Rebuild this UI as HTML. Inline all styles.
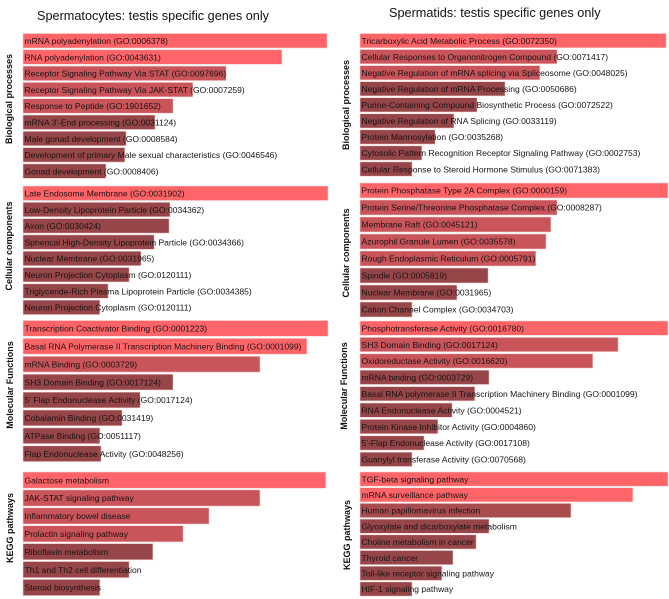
<!DOCTYPE html>
<html lang="en">
<head>
<meta charset="utf-8">
<title>Testis specific genes enrichment</title>
<style>
html,body{margin:0;padding:0;background:#fff;width:669px;height:599px;overflow:hidden}
svg{display:block;font-family:"Liberation Sans",Arial,sans-serif;filter:blur(0.3px)}
</style>
</head>
<body>
<svg id="chart" width="669" height="599" viewBox="0 0 669 599" xmlns="http://www.w3.org/2000/svg">
  <text x="37" y="20" font-size="12.7" fill="#111">Spermatocytes: testis specific genes only</text>
  <text x="389" y="17" font-size="12.7" fill="#111">Spermatids: testis specific genes only</text>
</svg>
<script>
// Spermatocytes
const cyteBioLabels = ["mRNA polyadenylation (GO:0006378)","RNA polyadenylation (GO:0043631)","Receptor Signaling Pathway Via STAT (GO:0097696)","Receptor Signaling Pathway Via JAK-STAT (GO:0007259)","Response to Peptide (GO:1901652)","mRNA 3'-End processing (GO:0031124)","Male gonad development (GO:0008584)","Development of primary Male sexual characteristics (GO:0046546)","Gonad development (GO:0008406)"];
const cyteBioValues = [99.7,84.9,66.6,55.7,49.2,43.3,33.8,33.4,27.2];
const cyteBioTiers = [0,0,1,1,1,2,2,2,2];
const cyteCompLabels = ["Late Endosome Membrane (GO:0031902)","Low-Density Lipoprotein Particle (GO:0034362)","Axon (GO:0030424)","Spherical High-Density Lipoprotein Particle (GO:0034366)","Nuclear Membrane (GO:0031965)","Neuron Projection Cytoplasm (GO:0120111)","Triglyceride-Rich Plasma Lipoprotein Particle (GO:0034385)","Neuron Projection Cytoplasm (GO:0120111)"];
const cyteCompValues = [100,48.2,47.9,43,38.7,34.8,27.9,25.2];
const cyteCompTiers = [0,2,2,2,2,2,2,2];
const cyteFuncLabels = ["Transcription Coactivator Binding (GO:0001223)","Basal RNA Polymerase II Transcription Machinery Binding (GO:0001099)","mRNA Binding (GO:0003729)","SH3 Domain Binding (GO:0017124)","5' Flap Endonuclease Activity (GO:0017124)","Cobalamin Binding (GO:0031419)","ATPase Binding (GO:0051117)","Flap Endonuclease Activity (GO:0048256)"];
const cyteFuncValues = [100,93.1,77.7,49.2,38.4,32.5,25.2,25.6];
const cyteFuncTiers = [0,0,1,2,2,2,2,2];
const cyteKeggLabels = ["Galactose metabolism","JAK-STAT signaling pathway","Inflammatory bowel disease","Prolactin signaling pathway","Riboflavin metabolism","Th1 and Th2 cell differentiation","Steroid biosynthesis"];
const cyteKeggValues = [99.3,77.7,61,52.5,42.6,34.8,25.2];
const cyteKeggTiers = [0,1,1,1,2,2,2];
// Spermatids
const tidBioLabels = ["Tricarboxylic Acid Metabolic Process (GO:0072350)","Cellular Responses to Organonitrogen Compound (GO:0071417)","Negative Regulation of mRNA splicing via Spliceosome (GO:0048025)","Negative Regulation of mRNA Processing (GO:0050686)","Purine-Containing Compound Biosynthetic Process (GO:0072522)","Negative Regulation of RNA Splicing (GO:0033119)","Protein Mannosylation (GO:0035268)","Cytosolic Pattern Recognition Receptor Signaling Pathway (GO:0002753)","Cellular Response to Steroid Hormone Stimulus (GO:0071383)"];
const tidBioValues = [99.4,64,58.4,47.1,38,30.5,24.4,20.1,16.9];
const tidBioTiers = [0,1,1,2,2,2,2,2,2];
const tidCompLabels = ["Protein Phosphatase Type 2A Complex (GO:0000159)","Protein Serine/Threonine Phosphatase Complex (GO:0008287)","Membrane Raft (GO:0045121)","Azurophil Granule Lumen (GO:0035578)","Rough Endoplasmic Reticulum (GO:0005791)","Spindle (GO:0005819)","Nuclear Membrane (GO:0031965)","Cation Channel Complex (GO:0034703)"];
const tidCompValues = [100,64,62,60.4,57.1,41.6,31.5,16.9];
const tidCompTiers = [0,1,1,1,1,2,2,2];
const tidFuncLabels = ["Phosphotransferase Activity  (GO:0016780)","SH3 Domain Binding  (GO:0017124)","Oxidoreductase Activity  (GO:0016620)","mRNA binding  (GO:0003729)","Basal RNA polymerase II Transcription Machinery Binding  (GO:0001099)","RNA Endonuclease Activity (GO:0004521)","Protein Kinase Inhibitor Activity (GO:0004860)","5'-Flap Endonuclease Activity (GO:0017108)","Guanylyl transferase Activity (GO:0070568)"];
const tidFuncValues = [100,83.8,75.6,41.9,37.3,29.9,25.3,20.8,16.9];
const tidFuncTiers = [0,1,1,2,2,2,2,2,2];
const tidKeggLabels = ["TGF-beta signaling pathway","mRNA surveillance pathway","Human papillomavirus infection","Glyoxylate and dicarboxylate metabolism","Choline metabolism in cancer","Thyroid cancer","Toll-like receptor signaling pathway","HIF-1 signaling pathway"];
const tidKeggValues = [100,88.6,68.5,41.9,37.7,30.2,26.6,16.9];
const tidKeggTiers = [0,0,3,2,2,2,2,2];

const tierColors = ["#ff6468","#c9555a","#964648","#a84c4e"];
const NS = "http://www.w3.org/2000/svg";
const svg = document.getElementById("chart");

function xScale(panel, v){ return panel.scale * v; }
function yScale(group, i){ return group.top + group.step * i; }

const cytePanel = {x0:23, scale:3.05};
const tidPanel = {x0:360, scale:3.08};

const groups = [
 {name:"Biological processes", panel:cytePanel, top:33.5, step:16.3, h:14.5, axisX:12, axisY:99, labels:cyteBioLabels, values:cyteBioValues, tiers:cyteBioTiers},
 {name:"Cellular components", panel:cytePanel, top:186, step:16.3, h:14.5, axisX:12, axisY:246, labels:cyteCompLabels, values:cyteCompValues, tiers:cyteCompTiers},
 {name:"Molecular Functions", panel:cytePanel, top:320.5, step:17.9, h:15.8, axisX:13, axisY:385, labels:cyteFuncLabels, values:cyteFuncValues, tiers:cyteFuncTiers},
 {name:"KEGG pathways", panel:cytePanel, top:472, step:17.9, h:16.2, axisX:13, axisY:528, labels:cyteKeggLabels, values:cyteKeggValues, tiers:cyteKeggTiers},
 {name:"Biological processes", panel:tidPanel, top:33.5, step:16.05, h:14.3, axisX:349, axisY:105, labels:tidBioLabels, values:tidBioValues, tiers:tidBioTiers},
 {name:"Cellular components", panel:tidPanel, top:183, step:17, h:15, axisX:349, axisY:253, labels:tidCompLabels, values:tidCompValues, tiers:tidCompTiers},
 {name:"Molecular Functions", panel:tidPanel, top:321, step:16.4, h:14.3, axisX:347, axisY:386, labels:tidFuncLabels, values:tidFuncValues, tiers:tidFuncTiers},
 {name:"KEGG pathways", panel:tidPanel, top:472, step:15.7, h:14.2, axisX:350, axisY:535, labels:tidKeggLabels, values:tidKeggValues, tiers:tidKeggTiers}
];

groups.forEach(function(g){
  const axis = document.createElementNS(NS,"text");
  
  
  axis.setAttribute("transform","translate("+g.axisX+","+g.axisY+") rotate(-90)");
  axis.setAttribute("text-anchor","middle");
  axis.setAttribute("font-size","9");
  axis.setAttribute("font-weight","bold");
  axis.setAttribute("fill","#111");
  axis.textContent = g.name;
  svg.appendChild(axis);

  g.values.forEach(function(v,i){
    const y = yScale(g,i);
    const bar = document.createElementNS(NS,"rect");
    
    
    bar.setAttribute("x",g.panel.x0);
    bar.setAttribute("y",y);
    bar.setAttribute("width",xScale(g.panel,v));
    bar.setAttribute("height",g.h);
    bar.setAttribute("fill",tierColors[g.tiers[i]]);
    bar.setAttribute("stroke","#f6d3d3");
    bar.setAttribute("stroke-width","0.6");
    svg.appendChild(bar);

    const label = document.createElementNS(NS,"text");
    
    
    label.setAttribute("x",g.panel.x0+1.5);
    label.setAttribute("y",y+g.h/2+3.2);
    label.setAttribute("font-size","8.55");
    label.setAttribute("fill","#1a1214");
    label.setAttribute("xml:space","preserve");
    label.textContent = g.labels[i];
    svg.appendChild(label);
  });
});
</script>
</body>
</html>
